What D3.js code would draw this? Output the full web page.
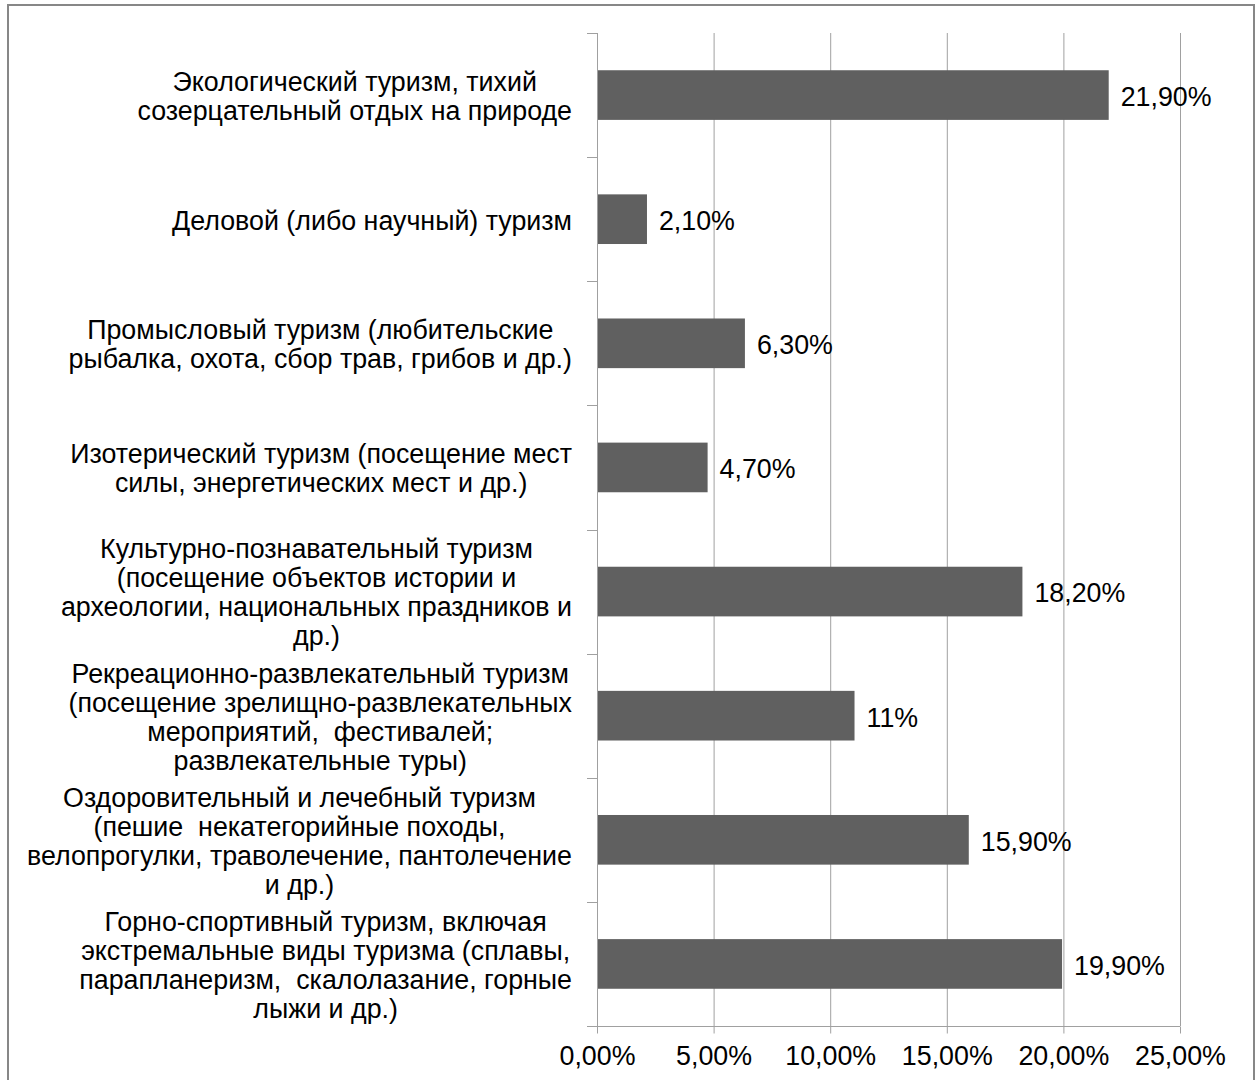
<!DOCTYPE html>
<html>
<head>
<meta charset="utf-8">
<script src="https://cdn.jsdelivr.net/npm/d3@7"></script>
<style>
  body { margin: 0; background: #fff; }
  text { font-family: "Liberation Sans", Arial, sans-serif; fill: #000; white-space: pre; }
</style>
</head>
<body>
<div id="chart"></div>
<script>
// categories, top to bottom, with the line breaks used in the picture
const categories = [
    ['Экологический туризм, тихий', 'созерцательный отдых на природе'],
    ['Деловой (либо научный) туризм'],
    ['Промысловый туризм (любительские', 'рыбалка, охота, сбор трав, грибов и др.)'],
    ['Изотерический туризм (посещение мест', 'силы, энергетических мест и др.)'],
    ['Культурно-познавательный туризм', '(посещение объектов истории и', 'археологии, национальных праздников и', 'др.)'],
    ['Рекреационно-развлекательный туризм', '(посещение зрелищно-развлекательных', 'мероприятий,  фестивалей;', 'развлекательные туры)'],
    ['Оздоровительный и лечебный туризм', '(пешие  некатегорийные походы,', 'велопрогулки, траволечение, пантолечение', 'и др.)'],
    ['Горно-спортивный туризм, включая', 'экстремальные виды туризма (сплавы,', 'парапланеризм,  скалолазание, горные', 'лыжи и др.)']
];
const values = [21.9, 2.1, 6.3, 4.7, 18.2, 11, 15.9, 19.9];
const valueLabels = ['21,90%', '2,10%', '6,30%', '4,70%', '18,20%', '11%', '15,90%', '19,90%'];
const xTicks = [0, 5, 10, 15, 20, 25];
const xTickLabels = ['0,00%', '5,00%', '10,00%', '15,00%', '20,00%', '25,00%'];

const width = 1257, height = 1080;
const fontSize = 26.8, lineStep = 29;

let svg = d3.select('#chart').append('svg')
    .attr('width', width)
    .attr('height', height);

// outer frame
svg.append('rect')
    .attr('x', 8).attr('y', 5)
    .attr('width', 1246).attr('height', 1100)
    .attr('fill', 'none')
    .attr('stroke', '#878787')
    .attr('stroke-width', 2);

let x = d3.scaleLinear().domain([0, 25]).range([597, 1180]);
let y = d3.scaleBand()
    .domain(d3.range(categories.length))
    .range([33, 1026])
    .paddingInner(0.6)
    .paddingOuter(0.3);

// vertical gridlines
svg.append('g')
    .attr('stroke', '#a0a0a0')
    .selectAll('line')
    .data(xTicks.slice(1))
    .enter().append('line')
    .attr('x1', d => x(d) + 0.5).attr('x2', d => x(d) + 0.5)
    .attr('y1', 33).attr('y2', 1026);

// bottom axis
let xAxis = d3.axisBottom(x)
    .tickValues(xTicks)
    .tickSize(7)
    .tickPadding(12)
    .tickFormat((d, i) => xTickLabels[i]);
let gx = svg.append('g')
    .attr('transform', 'translate(0,' + 1026.5 + ')')
    .call(xAxis);
gx.select('.domain').attr('stroke', '#a0a0a0').attr('d', 'M587,0H' + x(25));
gx.selectAll('.tick line').attr('stroke', '#a0a0a0');
gx.selectAll('.tick text')
    .style('font-size', fontSize + 'px')
    .style('font-family', '"Liberation Sans", Arial, sans-serif')
    .attr('fill', '#000');

// left axis line and category boundary ticks
let yEdges = d3.range(categories.length + 1).map(i => i === categories.length ? 1026 : y(i) - y.step() * 0.3);
svg.append('line')
    .attr('x1', x(0) + 0.5).attr('x2', x(0) + 0.5)
    .attr('y1', 33).attr('y2', 1026)
    .attr('stroke', '#a0a0a0');
svg.append('g')
    .attr('stroke', '#a0a0a0')
    .selectAll('line')
    .data(yEdges)
    .enter().append('line')
    .attr('x1', 587).attr('x2', x(0))
    .attr('y1', d => Math.round(d) + 0.5)
    .attr('y2', d => Math.round(d) + 0.5);

// bars
svg.append('g')
    .selectAll('rect')
    .data(values)
    .enter().append('rect')
    .attr('x', x(0) + 1)
    .attr('y', (d, i) => y(i))
    .attr('width', d => x(d) - x(0))
    .attr('height', y.bandwidth())
    .attr('fill', '#606060');

// value labels
svg.append('g')
    .selectAll('text')
    .data(values)
    .enter().append('text')
    .attr('x', d => x(d) + 13)
    .attr('y', (d, i) => y(i) + y.bandwidth() / 2 + 1.5)
    .attr('dy', '0.35em')
    .style('font-size', fontSize + 'px')
    .text((d, i) => valueLabels[i]);

// category labels: lines centred inside a box right-aligned to the axis
let labelRight = 572;
let labels = svg.append('g')
    .selectAll('text')
    .data(categories)
    .enter().append('text')
    .style('font-size', fontSize + 'px')
    .attr('text-anchor', 'middle');

labels.each(function (lines, i) {
    let t = d3.select(this);
    let cy = y(i) + y.bandwidth() / 2 + 1;
    let top = cy - (lines.length - 1) * lineStep / 2;
    lines.forEach((s, k) => {
        t.append('tspan')
            .attr('y', top + k * lineStep)
            .attr('dy', '0.35em')
            .text(s);
    });
    let maxW = d3.max(t.selectAll('tspan').nodes(), n => n.getComputedTextLength());
    t.selectAll('tspan').attr('x', labelRight - maxW / 2);
});
</script>
</body>
</html>
